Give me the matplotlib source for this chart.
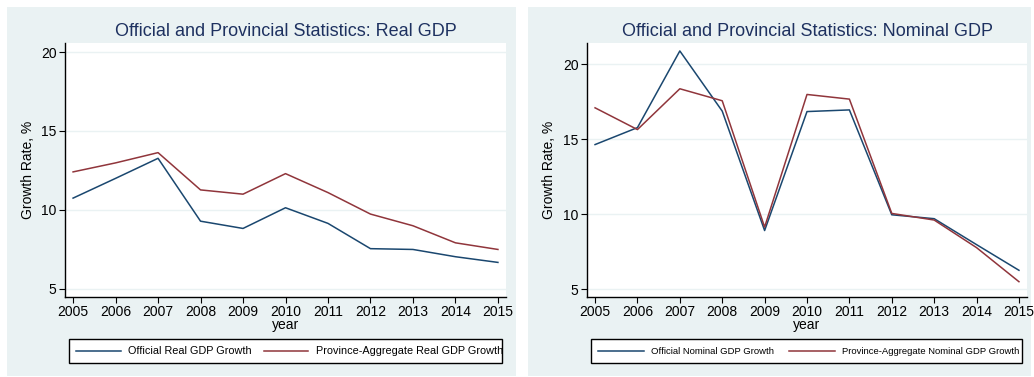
import matplotlib
matplotlib.use("Agg")
import matplotlib.pyplot as plt
from matplotlib.patches import Rectangle
from matplotlib.lines import Line2D

plt.rcParams['font.family'] = ['Liberation Sans', 'DejaVu Sans']

years = [2005, 2006, 2007, 2008, 2009, 2010, 2011, 2012, 2013, 2014, 2015]

official_real = [10.75, 12.0, 13.27, 9.29, 8.83, 10.14, 9.15, 7.55, 7.5, 7.04, 6.68]
province_real = [12.41, 12.98, 13.63, 11.27, 11.0, 12.3, 11.1, 9.74, 9.0, 7.92, 7.5]

official_nominal = [14.63, 15.76, 20.87, 16.86, 8.9, 16.83, 16.94, 9.95, 9.69, 7.96, 6.25]
province_nominal = [17.08, 15.63, 18.35, 17.55, 9.13, 17.97, 17.66, 10.04, 9.6, 7.76, 5.49]

yticks = [5, 10, 15, 20]

W, H = 1034, 377
BG = '#eaf2f3'
NAVY = '#1a476f'
MAROON = '#90353b'
TITLE_C = '#1e3160'

fig = plt.figure(figsize=(W / 100, H / 100), dpi=100)


def fx(px):
    return px / W


def fy(py):
    return 1 - py / H


panels = [
    dict(bg=(7, 7, 516, 376), ax=(65, 43, 506, 297),
         title='Official and Provincial Statistics: Real GDP',
         s1=official_real, s2=province_real,
         l1='Official Real GDP Growth', l2='Province-Aggregate Real GDP Growth',
         ylim=(4.49, 20.57), ylab_x=28,
         leg=(69, 339, 502, 363), lines=((76, 121, 128), (264, 308, 316)), legfs=7.8),
    dict(bg=(528, 7, 1031, 376), ax=(587, 43, 1027, 297),
         title='Official and Provincial Statistics: Nominal GDP',
         s1=official_nominal, s2=province_nominal,
         l1='Official Nominal GDP Growth', l2='Province-Aggregate Nominal GDP Growth',
         ylim=(4.47, 21.4), ylab_x=549,
         leg=(591, 339, 1022, 363), lines=((598, 644, 651), (789, 835, 842)), legfs=6.8),
]

for p in panels:
    x0, y0, x1, y1 = p['bg']
    fig.patches.append(Rectangle((fx(x0), fy(y1)), fx(x1 - x0), (y1 - y0) / H,
                                 transform=fig.transFigure, facecolor=BG,
                                 edgecolor='none', zorder=-5))

    a0, b0, a1, b1 = p['ax']
    ax = fig.add_axes([fx(a0), fy(b1), fx(a1 - a0), (b1 - b0) / H])
    ax.set_zorder(1)
    ax.set_facecolor('white')
    ax.plot(years, p['s1'], color=NAVY, lw=1.1, zorder=3)
    ax.plot(years, p['s2'], color=MAROON, lw=1.1, zorder=3)
    ax.set_xlim(2004.81, 2015.19)
    ax.set_ylim(*p['ylim'])
    ax.set_xticks(years)
    ax.set_xticklabels([str(y) for y in years])
    ax.set_yticks(yticks)
    ax.set_yticklabels([str(t) for t in yticks])
    ax.grid(axis='y', color=BG, lw=1.0, zorder=1)
    ax.set_axisbelow(True)
    for side in ('top', 'right'):
        ax.spines[side].set_visible(False)
    for side in ('left', 'bottom'):
        ax.spines[side].set_linewidth(1.0)
        ax.spines[side].set_color('black')
    ax.tick_params(axis='both', direction='out', length=4, width=0.8,
                   labelsize=10, colors='black', pad=2)
    ax.set_xlabel('year', fontsize=10, labelpad=-1)
    fig.text(fx(p['ylab_x']), fy(170), 'Growth Rate, %', rotation=90,
             ha='center', va='center', fontsize=10)
    fig.text(fx((a0 + a1) / 2), fy(31), p['title'], ha='center', va='center',
             fontsize=13, color=TITLE_C)

    # legend box
    lx0, ly0, lx1, ly1 = p['leg']
    fig.patches.append(Rectangle((fx(lx0), fy(ly1)), fx(lx1 - lx0), (ly1 - ly0) / H,
                                 transform=fig.transFigure, facecolor='white',
                                 edgecolor='black', lw=1.0, zorder=2))
    ym = fy((ly0 + ly1) / 2)
    for (s, e, t), col, lab in zip(p['lines'], (NAVY, MAROON), (p['l1'], p['l2'])):
        fig.lines.append(Line2D([fx(s), fx(e)], [ym, ym], transform=fig.transFigure,
                                color=col, lw=1.1, zorder=3))
        fig.text(fx(t), ym, lab, ha='left', va='center', fontsize=p['legfs'],
                 zorder=4)

fig.savefig('out.png', dpi=100)
